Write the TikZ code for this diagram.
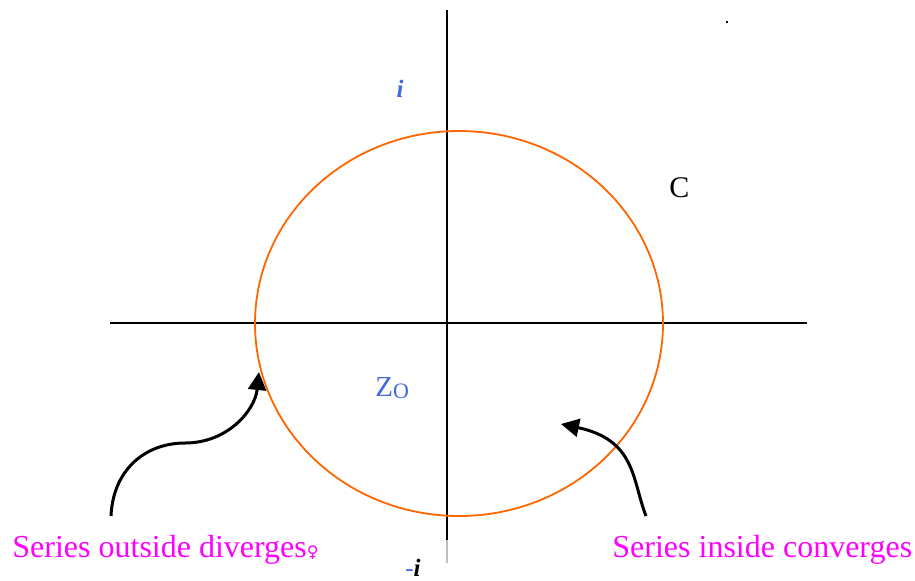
\documentclass[tikz,border=0pt]{standalone}
\usepackage{fontspec}
\setmainfont{Liberation Serif}
\newfontfamily\symfont{DejaVu Sans}
\usetikzlibrary{arrows.meta}
\definecolor{zblue}{RGB}{65,105,225}
\definecolor{circorange}{RGB}{255,102,0}
\definecolor{notemagenta}{RGB}{255,0,255}
\tikzset{
  axisline/.style={black, line width=0.75pt},
  bentarrow/.style={black, line width=1.5pt, -{Triangle[length=9pt,width=9pt]}},
  notetext/.style={anchor=base west, inner sep=0pt, text=notemagenta, font=\fontsize{16}{18}\selectfont},
}
\begin{document}
\begin{tikzpicture}[x=0.5pt, y=-0.5pt]
    % frame of the picture (pixel grid)
    \useasboundingbox (0,0) rectangle (915,580);
    \fill[white] (0,0) rectangle (915,580);

    % axes
    \draw[axisline] (110,323) -- (807,323);
    \draw[axisline] (447,10) -- (447,540);
    \draw[gray!50, line width=0.75pt] (447,540) -- (447,563);

    % circle of convergence
    \def\rx{204}
    \def\ry{192.5}
    \draw[circorange, line width=0.9pt] (459,323.5) ellipse [x radius=\rx, y radius=\ry];

    % labels
    \node[text=zblue, font=\fontsize{12.5}{14}\selectfont\bfseries\itshape, anchor=base, inner sep=0pt] (itop) at (400,97) {i};
    \node[font=\fontsize{15}{17}\selectfont, anchor=base west, inner sep=0pt] (clabel) at (669,197) {C};
    \node[text=zblue, font=\fontsize{14.5}{16}\selectfont, anchor=base west, inner sep=0pt] (zzero) at (375,396) {Z\raisebox{-1pt}{\fontsize{11}{12}\selectfont O}};
    \node[font=\fontsize{12.5}{14}\selectfont, anchor=base west, inner sep=0pt] (ibottom) at (405,576) {{\color{zblue}-}\textbf{\textit{i}}};
    \fill[black] (726,21) rectangle (728,23);

    % notes at the bottom
    \node[notetext] (outside) at (12,557) {Series outside diverges{\symfont\fontsize{8}{9}\selectfont ♀}};
    \node[notetext] (inside) at (612,557) {Series inside converges};

    % arrows
    \coordinate (outstart) at (111,516);
    \coordinate (outmid) at (185,443);
    \coordinate (outtip) at (259,372);
    \coordinate (instart) at (646,516);
    \coordinate (intip) at (561,424);
    \draw[bentarrow] (outstart) .. controls (113,470) and (145,443) .. (outmid)
                     .. controls (228,443) and (255,410) .. (outtip);
    \draw[bentarrow] (instart) .. controls (632,480) and (636,440) .. (intip);
\end{tikzpicture}
\end{document}
